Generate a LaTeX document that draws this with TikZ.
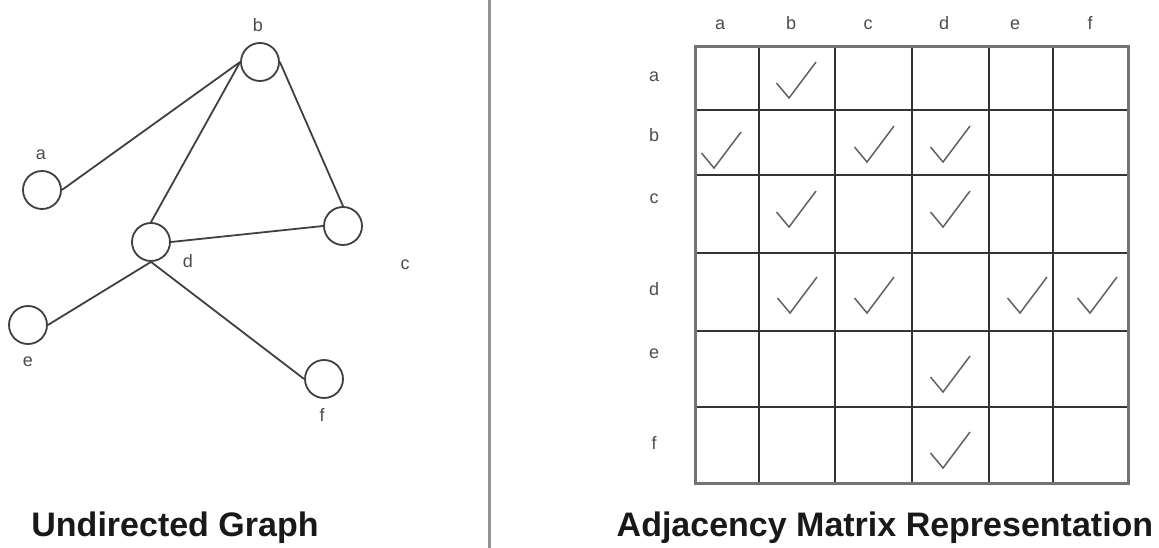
\documentclass[tikz,border=0pt]{standalone}
\usepackage{fontspec}
\setmainfont{Liberation Sans}
\begin{document}
\begin{tikzpicture}[x=1pt,y=-1pt,
  vertex/.style={circle, draw=black!75, line width=1.8pt, minimum size=38pt, inner sep=0pt},
  edge/.style={draw=black!75, line width=1.8pt},
  lbl/.style={font=\fontsize{18}{18}\selectfont, text=black!70, inner sep=0pt},
  heading/.style={font=\fontsize{34}{34}\selectfont\bfseries, text=black!90, inner sep=0pt, anchor=base},
  gridline/.style={draw=black!80, line width=2.2pt},
  frameline/.style={draw=black!55, line width=3pt},
  checkline/.style={draw=black!62, line width=1.5pt, line join=miter},
  checkmark/.pic={\draw[checkline] (-12.5,-15) -- (0,0) -- (27,-36);}
]
\useasboundingbox (0,0) rectangle (1159,548);

% ---------- undirected graph ----------
\node[vertex] (a) at (42,190) {};
\node[vertex] (b) at (260,62) {};
\node[vertex] (c) at (343,226) {};
\node[vertex] (d) at (151,242) {};
\node[vertex] (e) at (28,325) {};
\node[vertex] (f) at (324,379) {};

\node[lbl] (la) at (41,155) {a};
\node[lbl] (lb) at (258,25) {b};
\node[lbl] (lc) at (405,265) {c};
\node[lbl] (ld) at (188,261) {d};
\node[lbl] (le) at (28,362) {e};
\node[lbl] (lf) at (322,415) {f};

\draw[edge] (a.east) -- (b.west);
\draw[edge] (d.north) -- (b.west);
\draw[edge] (b.east) -- (c.north);
\draw[edge] (d.east) -- (c.west);
\draw[edge] (d.south) -- (e.east);
\draw[edge] (d.south) -- (f.west);

\node[heading] (gtitle) at (175,536) {Undirected Graph};

% ---------- separator ----------
\coordinate (septop) at (489,0);
\coordinate (sepbot) at (489,548);
\draw[draw=black!42, line width=3pt] (septop) -- (sepbot);

% ---------- adjacency matrix ----------
\foreach \x in {759,835,912,989,1053}
  \draw[gridline] (\x,47) -- (\x,483);
\foreach \y in {110,175,253,331,407}
  \draw[gridline] (695,\y) -- (1128,\y);
\draw[frameline] (695,47) rectangle (1128,483);

% column headings
\foreach \t/\x in {a/720,b/791,c/868,d/944,e/1015,f/1090}
  \node[lbl, anchor=base] (col\t) at (\x,30) {\t};
% row headings
\foreach \t/\y in {a/81.5,b/141.5,c/204,d/295,e/358,f/449}
  \node[lbl, anchor=base] (row\t) at (654,\y) {\t};

% entries
\foreach \x/\y in {789/98,
                   714/168, 867/162, 943/162,
                   789/227, 943/227,
                   790/313, 867/313, 1020/313, 1090/313,
                   943/392,
                   943/468}
  \pic at (\x,\y) {checkmark};

\node[heading] (mtitle) at (885,536) {Adjacency Matrix Representation};
\end{tikzpicture}
\end{document}
